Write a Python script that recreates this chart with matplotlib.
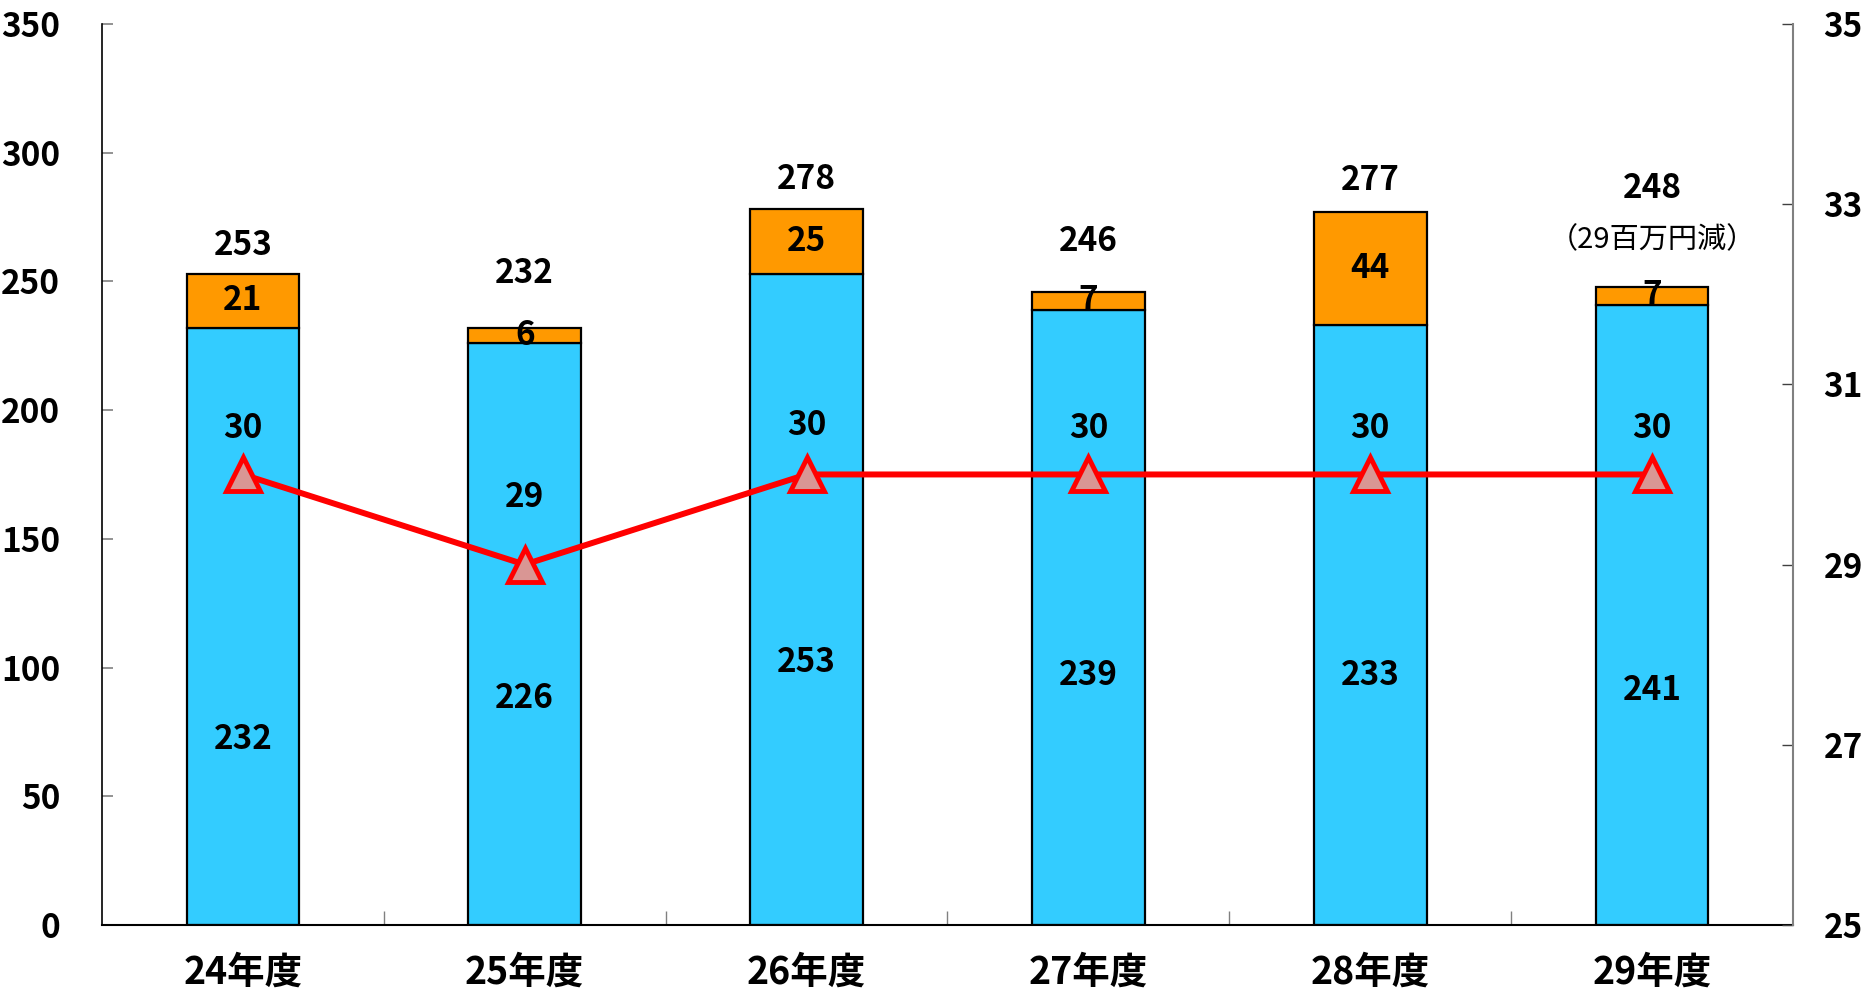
import numpy as np
import matplotlib
matplotlib.use("Agg")
import matplotlib.pyplot as plt

plt.rcParams['font.family'] = ['Liberation Sans Narrow', 'Noto Sans CJK JP', 'DejaVu Sans']

# data
years = ['24年度', '25年度', '26年度', '27年度', '28年度', '29年度']
base = [232, 226, 253, 239, 233, 241]        # blue part
extra = [21, 6, 25, 7, 44, 7]                # orange part
totals = [253, 232, 278, 246, 277, 248]
line_vals = [30, 29, 30, 30, 30, 30]         # right axis
notes = ['', '', '', '', '', '（29百万円減）']

# label placement (data units / points)
base_label_y = [72, 88, 102, 97, 97, 91]
total_label_gap = [11, 21, 11.5, 19.5, 12, 38]
line_label_off = [33, 48, 35, 33, 33, 33]

blue = '#33CCFF'
orange = '#FF9900'

fig = plt.figure(figsize=(18.64, 9.9), dpi=100)
ax = fig.add_axes([0.0547, 0.0657, 0.9072, 0.9101])
x = np.arange(len(years))

ax.bar(x, base, width=0.4, color=blue, edgecolor='black', linewidth=1.6, zorder=2)
ax.bar(x, extra, width=0.4, bottom=base, color=orange, edgecolor='black', linewidth=1.6, zorder=2)

for i in range(len(years)):
    ax.text(x[i], base_label_y[i], str(base[i]), ha='center', va='center',
            fontsize=24, fontweight='bold', zorder=5)
    ax.text(x[i], base[i] + extra[i] / 2, str(extra[i]), ha='center', va='center',
            fontsize=24, fontweight='bold', zorder=5)
    ax.text(x[i], totals[i] + total_label_gap[i], str(totals[i]), ha='center', va='center',
            fontsize=24, fontweight='bold', zorder=5)
    if notes[i]:
        ax.text(x[i], totals[i] + 18, notes[i], ha='center', va='center',
                fontsize=21, zorder=5)

ax.set_xlim(-0.5, len(years) - 0.5)
ax.set_ylim(0, 350)
ax.set_yticks(np.arange(0, 351, 50))
ax.tick_params(axis='y', direction='in', length=8, width=1.2, color='#808080',
               labelsize=24, pad=30)
for lab in ax.get_yticklabels():
    lab.set_fontweight('bold')

ax.set_xticks(np.arange(0.5, len(years) - 0.5, 1))
ax.set_xticklabels([])
ax.tick_params(axis='x', which='major', direction='in', length=10, width=1, color='#808080')
ax.set_xticks(x, minor=True)
ax.set_xticklabels(years, minor=True)
ax.tick_params(axis='x', which='minor', length=0, labelsize=27, pad=20)
for lab in ax.get_xticklabels(minor=True):
    lab.set_fontweight('bold')

ax.spines['top'].set_visible(False)
ax.spines['right'].set_visible(False)
ax.spines['left'].set_linewidth(1.2)
ax.spines['bottom'].set_linewidth(1.5)

ax2 = ax.twinx()
ax2.plot(x, line_vals, color='#FF0000', linewidth=4.3, marker='^', markersize=25,
         markerfacecolor='#D99694', markeredgecolor='#FF0000', markeredgewidth=3.5,
         zorder=4, clip_on=False)
for i in range(len(years)):
    ax2.annotate(str(line_vals[i]), (x[i], line_vals[i]), xytext=(0, line_label_off[i]),
                 textcoords='offset points', ha='center', va='center',
                 fontsize=24, fontweight='bold')
ax2.set_ylim(25, 35)
ax2.set_yticks(np.arange(25, 36, 2))
ax2.tick_params(axis='y', direction='in', length=8, width=1, color='#404040',
                labelsize=24, pad=22)
for lab in ax2.get_yticklabels():
    lab.set_fontweight('bold')
ax2.spines['top'].set_visible(False)
ax2.spines['left'].set_visible(False)
ax2.spines['bottom'].set_visible(False)
ax2.spines['right'].set_color('#808080')
ax2.spines['right'].set_linewidth(1.5)

fig.savefig('out.png', dpi=100)
